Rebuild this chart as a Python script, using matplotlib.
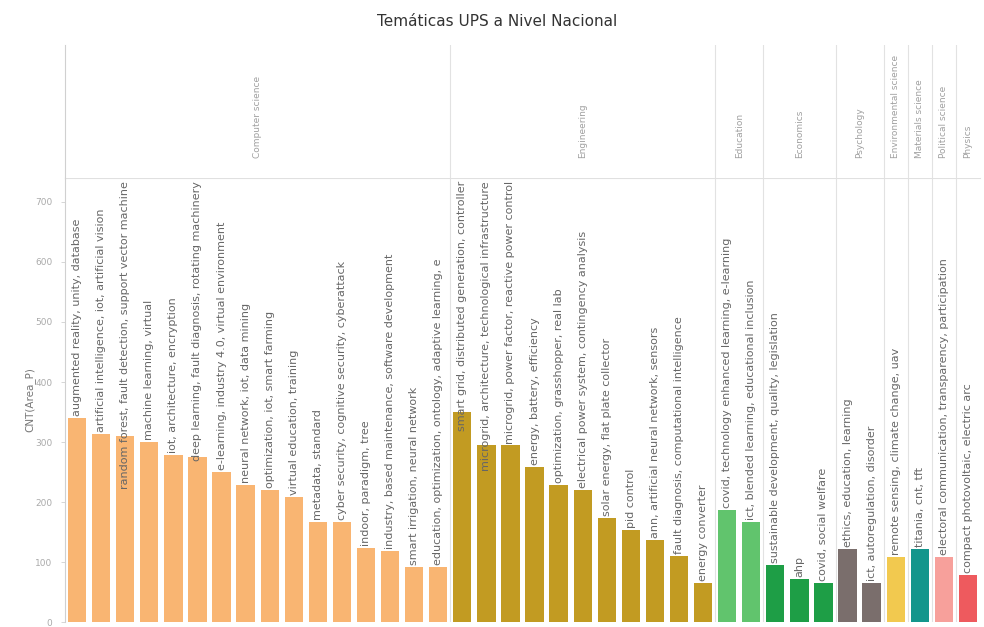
import matplotlib.pyplot as plt
import numpy as np

# ---- data ----
areas = ['Computer science', 'Engineering', 'Education', 'Economics', 'Psychology',
         'Environmental science', 'Materials science', 'Political science', 'Physics']
area_colors = ['#F9B572', '#C29B22', '#61C46D', '#1E9E46', '#7A6E6C',
               '#F2C94F', '#13968C', '#F7A09B', '#EE5A5E']

cs_topics = [
    'augmented reality, unity, database',
    'artificial intelligence, iot, artificial vision',
    'random forest, fault detection, support vector machine',
    'machine learning, virtual',
    'iot, architecture, encryption',
    'deep learning, fault diagnosis, rotating machinery',
    'e-learning, industry 4.0, virtual environment',
    'neural network, iot, data mining',
    'optimization, iot, smart farming',
    'virtual education, training',
    'metadata, standard',
    'cyber security, cognitive security, cyberattack',
    'indoor, paradigm, tree',
    'industry, based maintenance, software development',
    'smart irrigation, neural network',
    'education, optimization, ontology, adaptive learning, e',
]
cs_counts = [340, 313, 310, 300, 278, 275, 250, 228, 220, 208, 167, 167, 123, 118, 92, 92]

eng_topics = [
    'smart grid, distributed generation, controller',
    'microgrid, architecture, technological infrastructure',
    'microgrid, power factor, reactive power control',
    'energy, battery, efficiency',
    'optimization, grasshopper, real lab',
    'electrical power system, contingency analysis',
    'solar energy, flat plate collector',
    'pid control',
    'ann, artificial neural network, sensors',
    'fault diagnosis, computational intelligence',
    'energy converter',
]
eng_counts = [350, 295, 295, 258, 228, 220, 173, 153, 137, 110, 65]

edu_topics = ['covid, technology enhanced learning, e-learning',
              'ict, blended learning, educational inclusion']
edu_counts = [187, 167]

eco_topics = ['sustainable development, quality, legislation', 'ahp', 'covid, social welfare']
eco_counts = [95, 72, 65]

psy_topics = ['ethics, education, learning', 'ict, autoregulation, disorder']
psy_counts = [122, 65]

env_topics = ['remote sensing, climate change, uav']
env_counts = [108]

mat_topics = ['titania, cnt, tft']
mat_counts = [122]

pol_topics = ['electoral communication, transparency, participation']
pol_counts = [108]

phy_topics = ['compact photovoltaic, electric arc']
phy_counts = [78]

groups = [(cs_topics, cs_counts), (eng_topics, eng_counts), (edu_topics, edu_counts),
          (eco_topics, eco_counts), (psy_topics, psy_counts), (env_topics, env_counts),
          (mat_topics, mat_counts), (pol_topics, pol_counts), (phy_topics, phy_counts)]

y_ticks = [0, 100, 200, 300, 400, 500, 600, 700]

# ---- layout ----
W, H = 984, 627
fig = plt.figure(figsize=(W / 100, H / 100), dpi=100)
fig.patch.set_facecolor('white')

x_left, x_right = 65, 980
y_head_top, y_plot_top, y_plot_bot = 45, 178, 622

ax = fig.add_axes([x_left / W, (H - y_plot_bot) / H,
                   (x_right - x_left) / W, (y_plot_bot - y_plot_top) / H])
hdr = fig.add_axes([x_left / W, (H - y_plot_top) / H,
                    (x_right - x_left) / W, (y_plot_top - y_head_top) / H])

topics, counts, colors, bounds = [], [], [], [0]
for (t, c), col in zip(groups, area_colors):
    topics += t
    counts += c
    colors += [col] * len(c)
    bounds.append(bounds[-1] + len(c))

n = len(counts)
x = np.arange(n)
ax.bar(x, counts, width=0.76, color=colors, zorder=2)

ax.set_xlim(-0.5, n - 0.5)
ax.set_ylim(0, 740)
ax.set_xticks([])
ax.set_yticks(y_ticks)
ax.set_yticklabels([str(v) for v in y_ticks], fontsize=6.5, color='#aaaaaa')
ax.tick_params(axis='y', length=3, width=0.6, color='#d0d0d0', pad=6)
for s in ['right', 'bottom']:
    ax.spines[s].set_visible(False)
ax.spines['left'].set_color('#d0d0d0')
ax.spines['top'].set_color('#e0e0e0')
ax.spines['left'].set_linewidth(0.8)
ax.spines['top'].set_linewidth(0.8)

# group separators in plot and header
for b in bounds[1:-1]:
    ax.axvline(b - 0.5, color='#e2e2e2', lw=0.8, zorder=1)
    hdr.axvline(b - 0.5, color='#e2e2e2', lw=0.8)

# header with area names
hdr.set_xlim(-0.5, n - 0.5)
hdr.set_ylim(0, 1)
hdr.set_xticks([])
hdr.set_yticks([])
for s in ['right', 'bottom', 'top']:
    hdr.spines[s].set_visible(False)
hdr.spines['left'].set_color('#d0d0d0')
hdr.spines['left'].set_linewidth(0.8)
for name, a, b in zip(areas, bounds[:-1], bounds[1:]):
    hdr.text((a + b - 1) / 2, 0.15, name, rotation=90, ha='center', va='bottom',
             fontsize=6.5, color='#a0a0a0')

# bar labels, pushed down when they run past the top of the pane
labels = []
for xi, v, t in zip(x, counts, topics):
    labels.append(ax.text(xi, v + 3, t, rotation=90, ha='center', va='bottom',
                          fontsize=8, color='#666666', zorder=3))
fig.canvas.draw()
renderer = fig.canvas.get_renderer()
top_px = ax.transData.transform((0, 735))[1]
to_data = ax.transData.inverted()
for lab, xi, v in zip(labels, x, counts):
    bb = lab.get_window_extent(renderer)
    if bb.y1 > top_px:
        shift = bb.y1 - top_px
        y0 = ax.transData.transform((xi, v + 3))[1] - shift
        lab.set_y(to_data.transform((0, y0))[1])

fig.text(30 / W, (H - 400) / H, 'CNT(Area_P)', rotation=90, ha='center', va='center',
         fontsize=7.5, color='#777777')
fig.text(0.505, 1 - 22 / H, 'Temáticas UPS a Nivel Nacional', ha='center', va='center',
         fontsize=11, color='#333333')

fig.savefig('out.png', dpi=100)
